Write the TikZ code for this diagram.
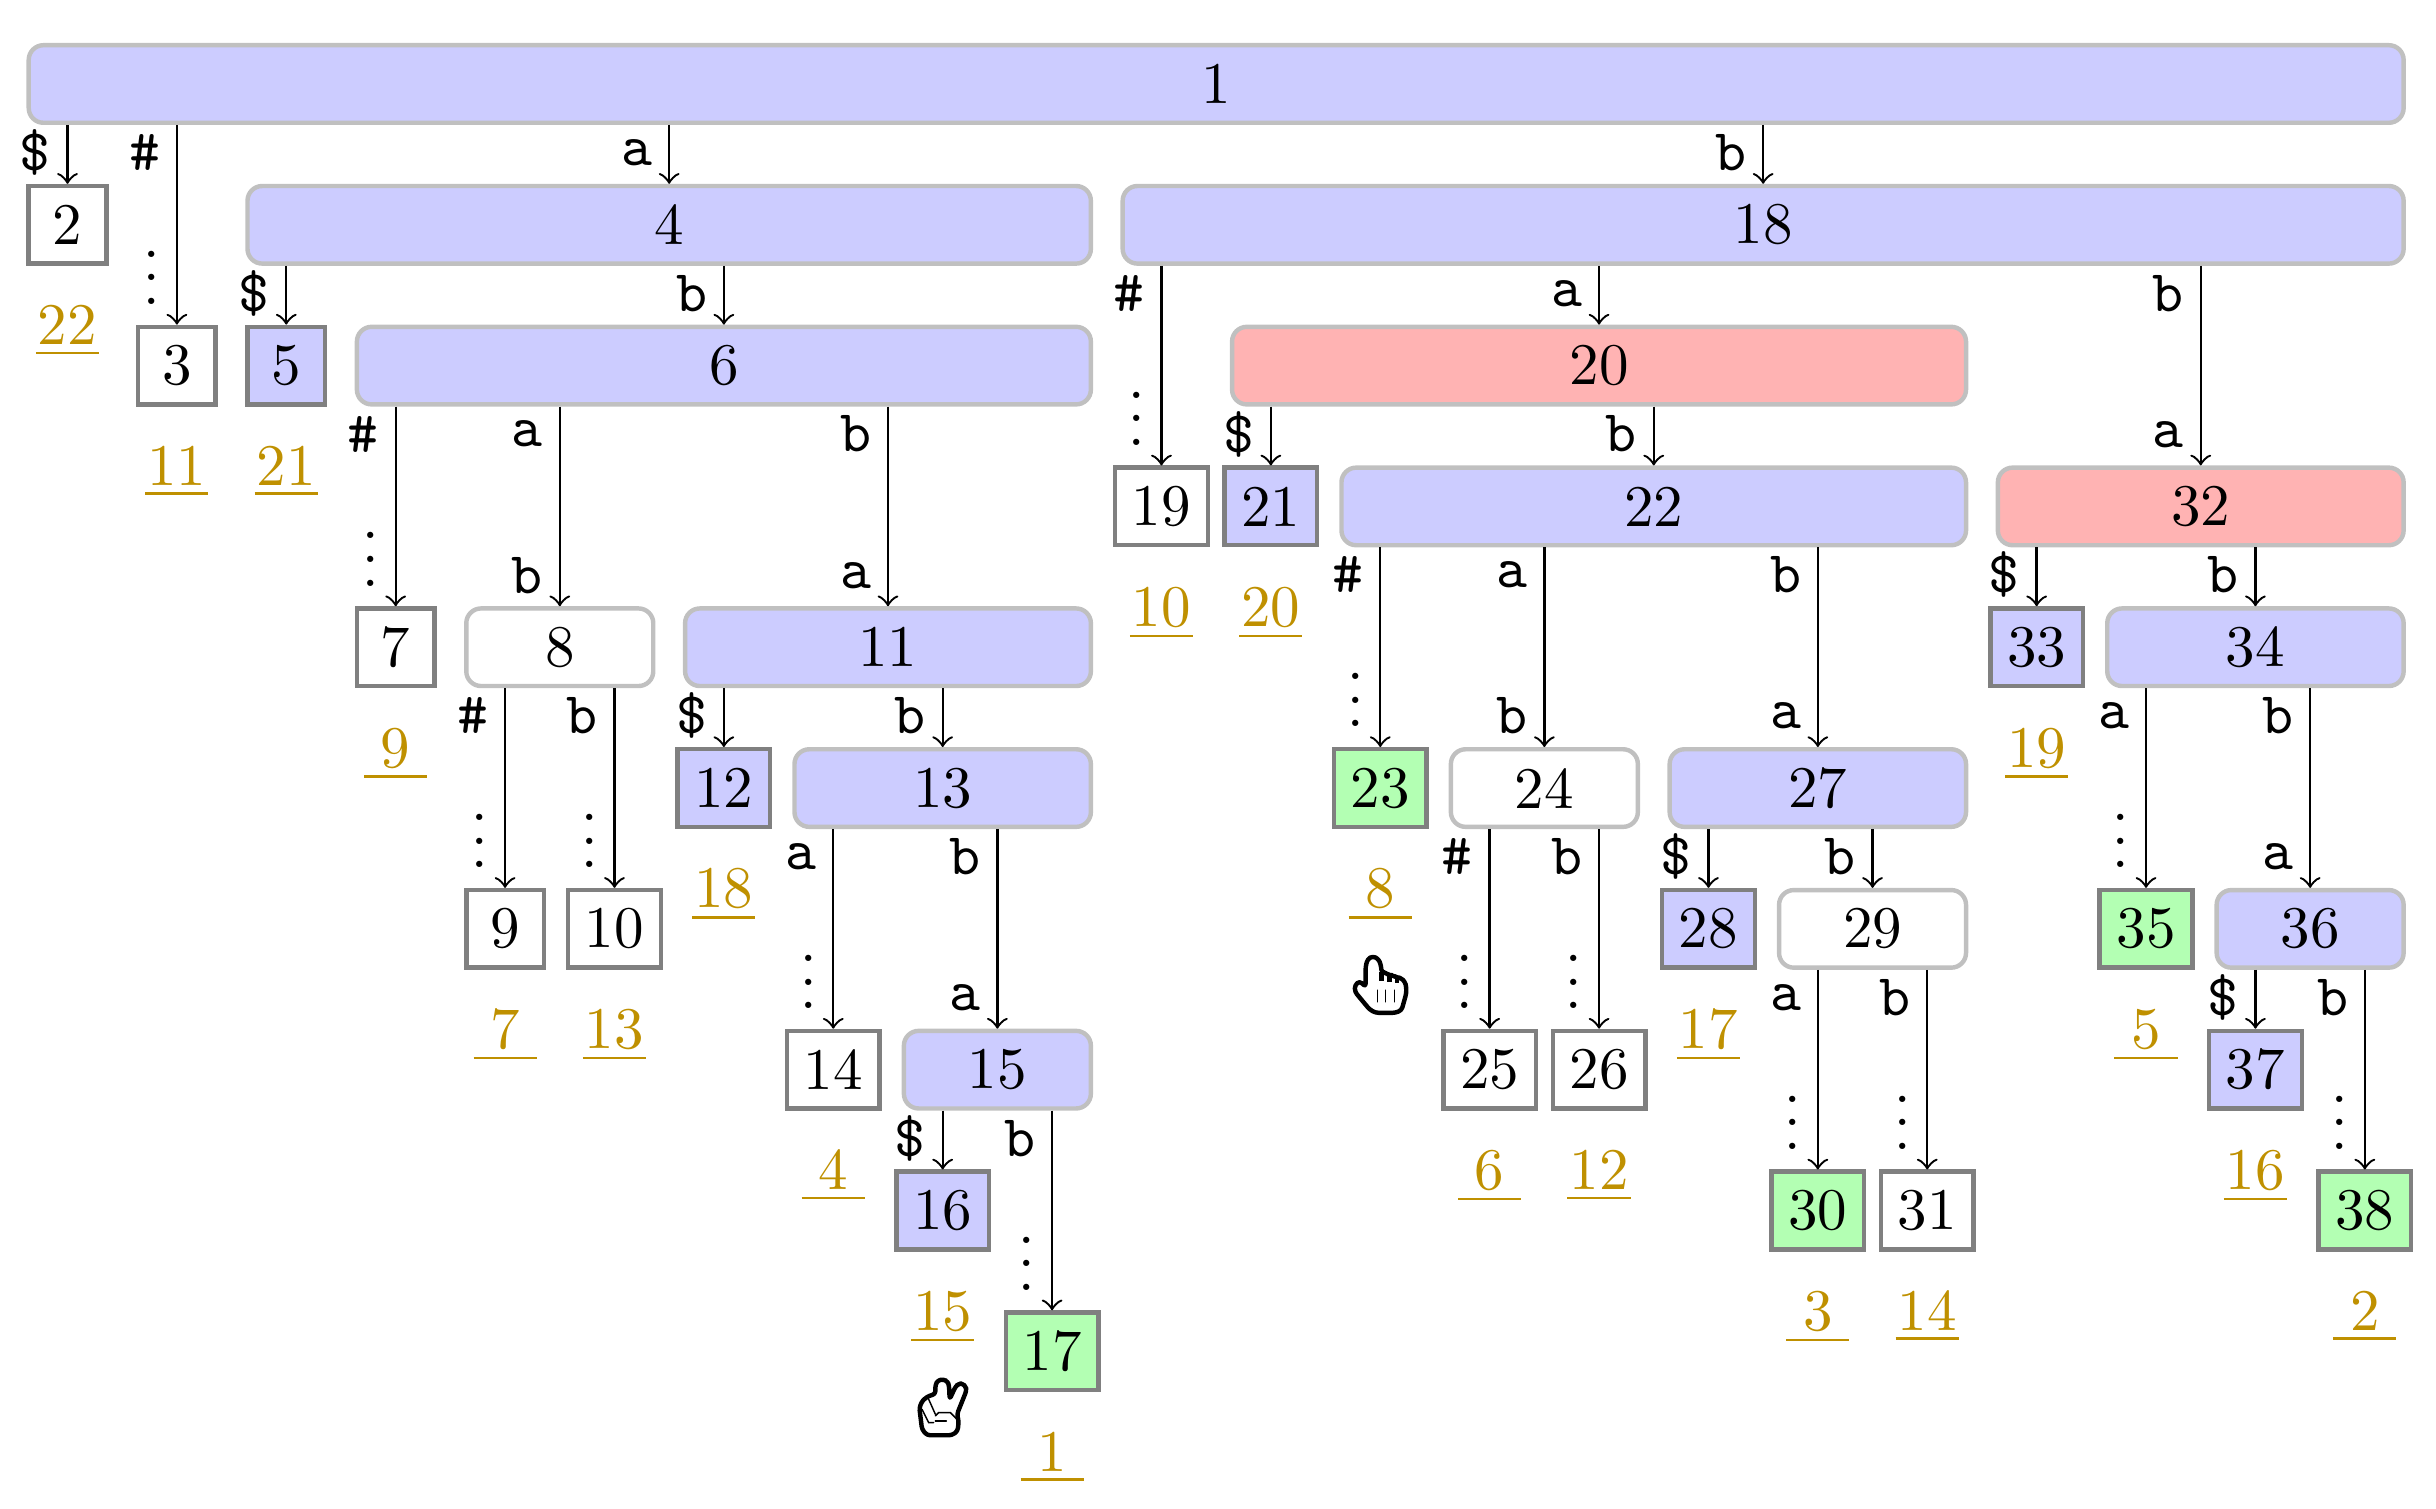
\documentclass[tikz,border=0pt]{standalone}
\definecolor{nodeblue}{HTML}{CCCCFF}
\definecolor{nodered}{HTML}{FFB3B3}
\definecolor{nodegreen}{HTML}{B3FFB3}
\definecolor{branchline}{HTML}{C0C0C0}
\definecolor{leafline}{HTML}{808080}
\definecolor{rankgold}{HTML}{BF9000}

\newcommand{\rankval}[1]{\underline{\makebox[10.7pt]{#1}}}

\tikzset{
  branch/.style={draw=branchline, line width=0.75pt, rounded corners=2.5pt,
    minimum height=13.15pt, inner sep=0pt},
  cols/.style={minimum width=#1*18.54pt+13.15pt},
  leaf/.style={draw=leafline, line width=0.75pt, minimum height=13.15pt,
    minimum width=13.15pt, inner sep=0pt},
  wide/.style={minimum width=15.71pt},
  edge/.style={->, line width=0.4pt},
  toplab/.style={pos=0, anchor=east, inner sep=0pt, xshift=-2.65pt, yshift=-4.66pt, font=\ttfamily},
  endlab/.style={pos=1, anchor=east, inner sep=0pt, xshift=-2.65pt, yshift=5.25pt, font=\ttfamily},
  cont/.style={pos=1, anchor=south east, inner sep=0pt, xshift=-2.65pt, yshift=3.2pt},
  rank/.style={anchor=base, inner sep=0pt, text=rankgold},
  handline/.style={draw=black, fill=white, line width=0.75pt, line join=round, rounded corners=0.5pt},
  handthin/.style={draw=black, line width=0.25pt, line cap=round},
}

\begin{document}
\begin{tikzpicture}[x=18.54pt, y=-23.864pt]
\useasboundingbox (-0.6170,-0.5966) rectangle (21.6504,10.114);

% Branching nodes
\node[branch, cols=21, fill=nodeblue] (n1) at (10.5,0) {1};
\node[branch, cols=7, fill=nodeblue] (n4) at (5.5,1) {4};
\node[branch, cols=11, fill=nodeblue] (n18) at (15.5,1) {18};
\node[branch, cols=6, fill=nodeblue] (n6) at (6,2) {6};
\node[branch, cols=6, fill=nodered] (n20) at (14,2) {20};
\node[branch, cols=5, fill=nodeblue] (n22) at (14.5,3) {22};
\node[branch, cols=3, fill=nodered] (n32) at (19.5,3) {32};
\node[branch, cols=1, fill=white] (n8) at (4.5,4) {8};
\node[branch, cols=3, fill=nodeblue] (n11) at (7.5,4) {11};
\node[branch, cols=2, fill=nodeblue] (n34) at (20,4) {34};
\node[branch, cols=2, fill=nodeblue] (n13) at (8,5) {13};
\node[branch, cols=1, fill=white] (n24) at (13.5,5) {24};
\node[branch, cols=2, fill=nodeblue] (n27) at (16,5) {27};
\node[branch, cols=1, fill=white] (n29) at (16.5,6) {29};
\node[branch, cols=1, fill=nodeblue] (n36) at (20.5,6) {36};
\node[branch, cols=1, fill=nodeblue] (n15) at (8.5,7) {15};

% Leaves
\node[leaf] (n2) at (0,1) {2};
\node[leaf] (n3) at (1,2) {3};
\node[leaf, fill=nodeblue] (n5) at (2,2) {5};
\node[leaf] (n7) at (3,4) {7};
\node[leaf] (n9) at (4,6) {9};
\node[leaf, wide] (n10) at (5,6) {10};
\node[leaf, wide, fill=nodeblue] (n12) at (6,5) {12};
\node[leaf, wide] (n14) at (7,7) {14};
\node[leaf, wide, fill=nodeblue] (n16) at (8,8) {16};
\node[leaf, wide, fill=nodegreen] (n17) at (9,9) {17};
\node[leaf, wide] (n19) at (10,3) {19};
\node[leaf, wide, fill=nodeblue] (n21) at (11,3) {21};
\node[leaf, wide, fill=nodegreen] (n23) at (12,5) {23};
\node[leaf, wide] (n25) at (13,7) {25};
\node[leaf, wide] (n26) at (14,7) {26};
\node[leaf, wide, fill=nodeblue] (n28) at (15,6) {28};
\node[leaf, wide, fill=nodegreen] (n30) at (16,8) {30};
\node[leaf, wide] (n31) at (17,8) {31};
\node[leaf, wide, fill=nodeblue] (n33) at (18,4) {33};
\node[leaf, wide, fill=nodegreen] (n35) at (19,6) {35};
\node[leaf, wide, fill=nodeblue] (n37) at (20,7) {37};
\node[leaf, wide, fill=nodegreen] (n38) at (21,8) {38};

% Ranks under the leaves
\node[rank] (r2) at ([yshift=-20.3pt]n2.center) {\rankval{22}};
\node[rank] (r3) at ([yshift=-20.3pt]n3.center) {\rankval{11}};
\node[rank] (r5) at ([yshift=-20.3pt]n5.center) {\rankval{21}};
\node[rank] (r7) at ([yshift=-20.3pt]n7.center) {\rankval{9}};
\node[rank] (r9) at ([yshift=-20.3pt]n9.center) {\rankval{7}};
\node[rank] (r10) at ([yshift=-20.3pt]n10.center) {\rankval{13}};
\node[rank] (r12) at ([yshift=-20.3pt]n12.center) {\rankval{18}};
\node[rank] (r14) at ([yshift=-20.3pt]n14.center) {\rankval{4}};
\node[rank] (r16) at ([yshift=-20.3pt]n16.center) {\rankval{15}};
\node[rank] (r17) at ([yshift=-20.3pt]n17.center) {\rankval{1}};
\node[rank] (r19) at ([yshift=-20.3pt]n19.center) {\rankval{10}};
\node[rank] (r21) at ([yshift=-20.3pt]n21.center) {\rankval{20}};
\node[rank] (r23) at ([yshift=-20.3pt]n23.center) {\rankval{8}};
\node[rank] (r25) at ([yshift=-20.3pt]n25.center) {\rankval{6}};
\node[rank] (r26) at ([yshift=-20.3pt]n26.center) {\rankval{12}};
\node[rank] (r28) at ([yshift=-20.3pt]n28.center) {\rankval{17}};
\node[rank] (r30) at ([yshift=-20.3pt]n30.center) {\rankval{3}};
\node[rank] (r31) at ([yshift=-20.3pt]n31.center) {\rankval{14}};
\node[rank] (r33) at ([yshift=-20.3pt]n33.center) {\rankval{19}};
\node[rank] (r35) at ([yshift=-20.3pt]n35.center) {\rankval{5}};
\node[rank] (r37) at ([yshift=-20.3pt]n37.center) {\rankval{16}};
\node[rank] (r38) at ([yshift=-20.3pt]n38.center) {\rankval{2}};

% Peace hand under leaf 16
\coordinate (peace) at ([yshift=-33.4pt]n16.center);
\begin{scope}[shift={(peace)}, x=0.0565pt, y=-0.0565pt]
\draw[handline] (-62,65) -- (-70,0) -- (-60,-22) -- (-40,-36) -- (-22,-40) -- (-22,-68) -- (-14,-82) -- (2,-85)
  -- (15,-78) -- (19,-66) -- (21,-25) -- (38,-62) -- (48,-72) -- (60,-72) -- (70,-62) -- (71,-50) -- (43,20)
  -- (48,40) -- (45,70) -- (28,83) -- (-47,83) -- cycle;
\draw[handthin] (-62,5) -- (-42,45) -- (-27,45);
\draw[handthin] (-42,-25) -- (-22,20);
\draw[handthin] (-22,25) -- (-12,15) -- (23,15) -- (43,35);
\draw[handthin] (-22,40) -- (11,40);
\end{scope}

% Pointing hand under leaf 23
\coordinate (pointer) at ([yshift=-33.4pt]n23.center);
\begin{scope}[shift={(pointer)}, x=0.0565pt, y=-0.0565pt]
\draw[handline] (-44,-55) -- (-38,-78) -- (-22,-87) -- (-5,-78) -- (2,-60) -- (4,-38) -- (16,-38) -- (28,-28)
  -- (38,-30) -- (50,-22) -- (62,-22) -- (74,-10) -- (78,5) -- (78,25) -- (64,75) -- (46,83) -- (-14,83)
  -- (-32,73) -- (-76,20) -- (-76,0) -- (-62,-12) -- (-44,5) -- cycle;
\draw[handthin] (-9,15) -- (-9,50);
\draw[handthin] (16,15) -- (16,50);
\draw[handthin] (43,15) -- (43,50);
\draw[handline] (28,-28) -- (28,-10);
\draw[handline] (50,-22) -- (50,-6);
\draw[handline] (4,-38) -- (4,-12);
\end{scope}

% Edges, root
\draw[edge] (n2 |- n1.south) -- (n2.north) node[toplab] (l2) {\$};
\draw[edge] (n3 |- n1.south) -- (n3.north) node[toplab] (l3) {\#} node[cont] (c3) {$\vdots$};
\draw[edge] (n4 |- n1.south) -- (n4.north) node[toplab] (l4) {a};
\draw[edge] (n18 |- n1.south) -- (n18.north) node[toplab] (l18) {b};

% Edges, left half
\draw[edge] (n5 |- n4.south) -- (n5.north) node[toplab] (l5) {\$};
\draw[edge] (n6 |- n4.south) -- (n6.north) node[toplab] (l6) {b};
\draw[edge] (n7 |- n6.south) -- (n7.north) node[toplab] (l7) {\#} node[cont] (c7) {$\vdots$};
\draw[edge] (n8 |- n6.south) -- (n8.north) node[toplab] (l8) {a} node[endlab] (e8) {b};
\draw[edge] (n11 |- n6.south) -- (n11.north) node[toplab] (l11) {b} node[endlab] (e11) {a};
\draw[edge] (n9 |- n8.south) -- (n9.north) node[toplab] (l9) {\#} node[cont] (c9) {$\vdots$};
\draw[edge] (n10 |- n8.south) -- (n10.north) node[toplab] (l10) {b} node[cont] (c10) {$\vdots$};
\draw[edge] (n12 |- n11.south) -- (n12.north) node[toplab] (l12) {\$};
\draw[edge] (n13 |- n11.south) -- (n13.north) node[toplab] (l13) {b};
\draw[edge] (n14 |- n13.south) -- (n14.north) node[toplab] (l14) {a} node[cont] (c14) {$\vdots$};
\draw[edge] (n15 |- n13.south) -- (n15.north) node[toplab] (l15) {b} node[endlab] (e15) {a};
\draw[edge] (n16 |- n15.south) -- (n16.north) node[toplab] (l16) {\$};
\draw[edge] (n17 |- n15.south) -- (n17.north) node[toplab] (l17) {b} node[cont] (c17) {$\vdots$};

% Edges, right half
\draw[edge] (n19 |- n18.south) -- (n19.north) node[toplab] (l19) {\#} node[cont] (c19) {$\vdots$};
\draw[edge] (n20 |- n18.south) -- (n20.north) node[toplab] (l20) {a};
\draw[edge] (n32 |- n18.south) -- (n32.north) node[toplab] (l32) {b} node[endlab] (e32) {a};
\draw[edge] (n21 |- n20.south) -- (n21.north) node[toplab] (l21) {\$};
\draw[edge] (n22 |- n20.south) -- (n22.north) node[toplab] (l22) {b};
\draw[edge] (n23 |- n22.south) -- (n23.north) node[toplab] (l23) {\#} node[cont] (c23) {$\vdots$};
\draw[edge] (n24 |- n22.south) -- (n24.north) node[toplab] (l24) {a} node[endlab] (e24) {b};
\draw[edge] (n27 |- n22.south) -- (n27.north) node[toplab] (l27) {b} node[endlab] (e27) {a};
\draw[edge] (n25 |- n24.south) -- (n25.north) node[toplab] (l25) {\#} node[cont] (c25) {$\vdots$};
\draw[edge] (n26 |- n24.south) -- (n26.north) node[toplab] (l26) {b} node[cont] (c26) {$\vdots$};
\draw[edge] (n28 |- n27.south) -- (n28.north) node[toplab] (l28) {\$};
\draw[edge] (n29 |- n27.south) -- (n29.north) node[toplab] (l29) {b};
\draw[edge] (n30 |- n29.south) -- (n30.north) node[toplab] (l30) {a} node[cont] (c30) {$\vdots$};
\draw[edge] (n31 |- n29.south) -- (n31.north) node[toplab] (l31) {b} node[cont] (c31) {$\vdots$};
\draw[edge] (n33 |- n32.south) -- (n33.north) node[toplab] (l33) {\$};
\draw[edge] (n34 |- n32.south) -- (n34.north) node[toplab] (l34) {b};
\draw[edge] (n35 |- n34.south) -- (n35.north) node[toplab] (l35) {a} node[cont] (c35) {$\vdots$};
\draw[edge] (n36 |- n34.south) -- (n36.north) node[toplab] (l36) {b} node[endlab] (e36) {a};
\draw[edge] (n37 |- n36.south) -- (n37.north) node[toplab] (l37) {\$};
\draw[edge] (n38 |- n36.south) -- (n38.north) node[toplab] (l38) {b} node[cont] (c38) {$\vdots$};

\end{tikzpicture}
\end{document}
